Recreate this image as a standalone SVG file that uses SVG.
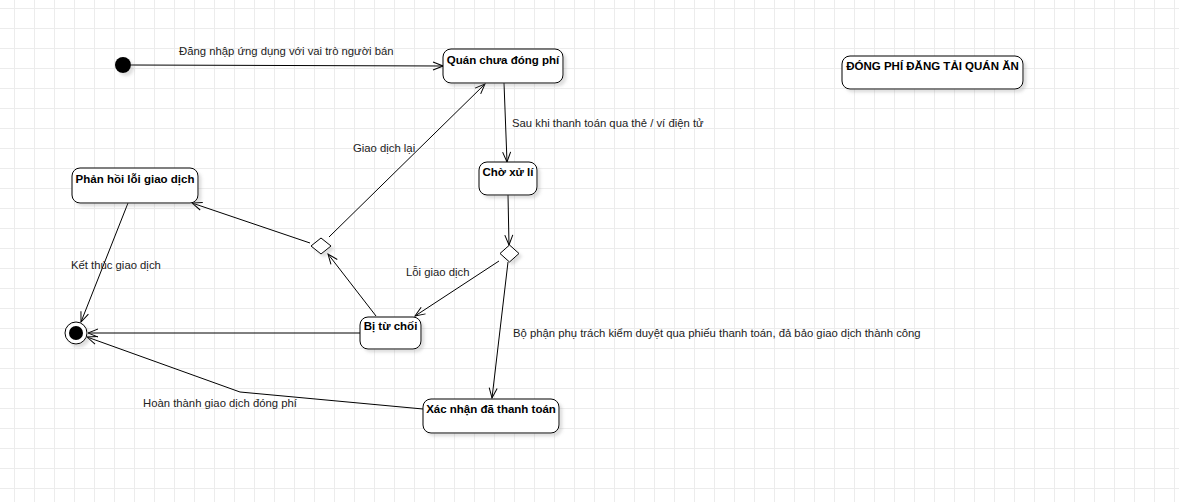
<svg xmlns="http://www.w3.org/2000/svg" width="1179" height="502" viewBox="0 0 1179 502">
  <defs>
    <pattern id="grid" patternUnits="userSpaceOnUse" x="14" y="8" width="20" height="20">
      <path d="M0.5,0 V20 M0,0.5 H20" fill="none" stroke="#ececec" stroke-width="1"/>
    </pattern>
    <filter id="shadow" x="-20%" y="-20%" width="150%" height="160%">
      <feGaussianBlur in="SourceAlpha" stdDeviation="1.5"/>
      <feOffset dx="3" dy="3" result="blur"/>
      <feFlood flood-color="#808080" flood-opacity="0.25"/>
      <feComposite in2="blur" operator="in"/>
      <feMerge>
        <feMergeNode/>
        <feMergeNode in="SourceGraphic"/>
      </feMerge>
    </filter>
    <marker id="open" markerUnits="userSpaceOnUse" markerWidth="12" markerHeight="10" viewBox="0 0 12 10" refX="11" refY="5" orient="auto">
      <path d="M1,1 L11,5 L1,9" fill="none" stroke="#000" stroke-width="1"/>
    </marker>
    <style>
      .state { fill: #fff; stroke: #000; stroke-width: 1; filter: url(#shadow); }
      .title { font-family: "Liberation Sans", Arial, sans-serif; font-size: 11.5px; font-weight: bold; fill: #000; text-anchor: middle; }
      .lbl { font-family: "Liberation Sans", Arial, sans-serif; font-size: 11.3px; fill: #222; }
      .edge { fill: none; stroke: #000; stroke-width: 1; marker-end: url(#open); }
      .plain { fill: none; stroke: #000; stroke-width: 1; }
    </style>
  </defs>

  <rect width="1179" height="502" fill="#fff"/>
  <rect width="1179" height="502" fill="url(#grid)"/>

  <!-- transitions -->
  <g id="connectors">
    <path class="edge" d="M131,65 L443,66"/>
    <path class="edge" d="M504,83 L507,162"/>
    <path class="edge" d="M508,195 L509,245"/>
    <path class="edge" d="M499,261 L415,316"/>
    <path class="edge" d="M508,262 L492,398"/>
    <path class="edge" d="M376,316 L328,254"/>
    <path class="edge" d="M310,243 L192,203"/>
    <path class="edge" d="M329,237 L485,84"/>
    <path class="edge" d="M128,203 L81,322"/>
    <path class="edge" d="M360,333 L88,333"/>
    <path class="edge" d="M423,409 L240,392 L87,337"/>

    <text class="lbl" x="179" y="55">Đăng nhập ứng dụng với vai trò người bán</text>
    <text class="lbl" x="512" y="127">Sau khi thanh toán qua thẻ / ví điện tử</text>
    <text class="lbl" x="353" y="152">Giao dịch lại</text>
    <text class="lbl" x="406" y="276">Lỗi giao dịch</text>
    <text class="lbl" x="71" y="269">Kết thúc giao dịch</text>
    <text class="lbl" x="513" y="337">Bộ phận phụ trách kiểm duyệt qua phiếu thanh toán, đả bảo giao dịch thành công</text>
    <text class="lbl" x="143" y="407">Hoàn thành giao dịch đóng phí</text>
  </g>

  <!-- initial state -->
  <g id="start">
    <circle cx="123" cy="65" r="8" fill="#000" filter="url(#shadow)"/>
  </g>

  <!-- final state -->
  <g id="end">
    <circle cx="76" cy="333" r="11" fill="#fff" stroke="#000" filter="url(#shadow)"/>
    <circle cx="76" cy="333" r="7" fill="#000"/>
  </g>

  <g id="quan-chua-dong-phi">
    <rect class="state" x="443" y="49" width="120" height="34" rx="8"/>
    <text class="title" x="503" y="64">Quán chưa đóng phí</text>
  </g>

  <g id="cho-xu-li">
    <rect class="state" x="479" y="162" width="58" height="33" rx="8"/>
    <text class="title" x="508" y="176">Chờ xử lí</text>
  </g>

  <g id="decision-result">
    <path class="state" d="M500,253.5 L509.5,245 L519,253.5 L509.5,262 Z"/>
  </g>

  <g id="decision-retry">
    <path class="state" d="M311,246 L321,238 L331,246 L321,254 Z"/>
  </g>

  <g id="phan-hoi-loi">
    <rect class="state" x="72" y="168" width="126" height="35" rx="8"/>
    <text class="title" x="135" y="183">Phản hồi lỗi giao dịch</text>
  </g>

  <g id="bi-tu-choi">
    <rect class="state" x="360" y="317" width="61" height="32" rx="8"/>
    <text class="title" x="390.5" y="330">Bị từ chối</text>
  </g>

  <g id="xac-nhan">
    <rect class="state" x="423" y="399" width="136" height="34" rx="8"/>
    <text class="title" x="491" y="413">Xác nhận đã thanh toán</text>
  </g>

  <g id="tieu-de">
    <rect class="state" x="842" y="56" width="181" height="33" rx="8"/>
    <text class="title" x="932.5" y="70">ĐÓNG PHÍ ĐĂNG TẢI QUÁN ĂN</text>
  </g>
</svg>
